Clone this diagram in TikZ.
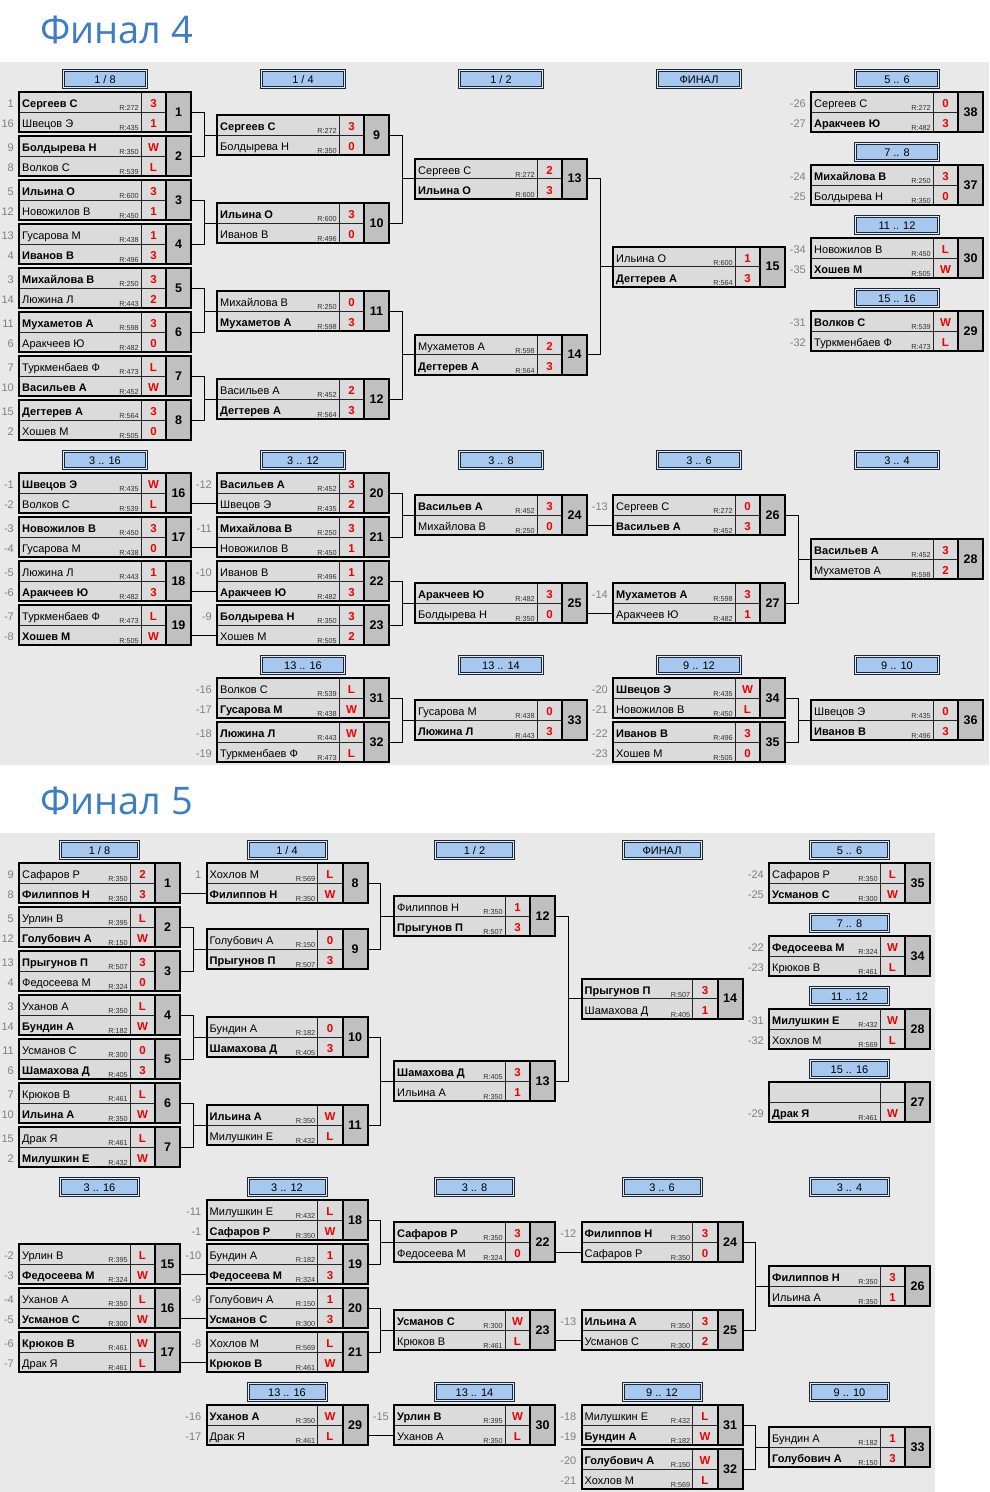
\documentclass[tikz,border=0pt]{standalone}
\usepackage{fontspec}
\setmainfont{Liberation Sans}
\newfontfamily\titlefont{Open Sans}
\usetikzlibrary{calc}
\definecolor{pagebg}{HTML}{E9E9E9}
\definecolor{cellbg}{HTML}{DBDBDB}
\definecolor{numbg}{HTML}{C0C0C0}
\definecolor{hdblue}{HTML}{A6C8EE}
\definecolor{hdgap}{HTML}{E4ECF6}
\definecolor{hdline}{HTML}{1C2636}
\definecolor{scred}{HTML}{F00000}
\definecolor{seedgray}{HTML}{808080}
\definecolor{titleblue}{HTML}{3D7DC6}
\newcommand\nmfont{\fontsize{11}{13}\selectfont}
\tikzset{
  nm/.style={anchor=base west,inner sep=0pt},
  rtg/.style={anchor=base east,inner sep=0pt,font=\fontsize{7.3}{8}\selectfont,text=black!80},
  sc/.style={anchor=base,inner sep=0pt,font=\fontsize{11.5}{13}\selectfont\bfseries,text=scred},
  sd/.style={anchor=base east,inner sep=0pt,font=\nmfont,text=seedgray},
  numtxt/.style={anchor=center,inner sep=0pt,font=\fontsize{12.5}{14}\selectfont\bfseries},
  hdtxt/.style={anchor=base,inner sep=0pt,font=\fontsize{11}{13}\selectfont},
  outerline/.style={line width=2pt,draw=black},
  innerline/.style={line width=0.8pt,draw=black!85},
  hdl/.style={line width=0.8pt,draw=hdline},
  conn/.style={line width=1pt,draw=black},
  ttl/.style={anchor=base west,inner sep=0pt,font=\titlefont\fontsize{38}{42}\selectfont,text=titleblue},
}
% match box: id, x, y(top), number
\newcommand\mt[4]{%
  \def\mtid{#1}\def\mtx{#2}\def\mty{#3}%
  \fill[cellbg] (#2,#3) rectangle ++(\BW-25,40);
  \fill[numbg] (#2+\BW-25,#3) rectangle ++(25,40);
  \draw[innerline] (#2,#3+20) -- ++(\BW-25,0);
  \draw[innerline] (#2+\BW-50,#3) -- ++(0,40);
  \draw[outerline] (#2+\BW-25,#3) -- ++(0,40);
  \draw[outerline] (#2,#3) rectangle ++(\BW,40);
  \node[numtxt] (#1) at (#2+\BW-12.5,#3+20) {#4};
  \coordinate (#1-in) at (#2,#3+20);
  \coordinate (#1-out) at (#2+\BW,#3+20);
  \coordinate (#1-bot) at (#2,#3+30);
}
% player: font, row, seed, name, rating, score
\newcommand\plx[6]{%
  \pgfmathsetmacro\prow{\mty+20*(#2-1)}%
  \node[nm,font=\nmfont#1] (\mtid-n#2) at (\mtx+3,\prow+15.5) {#4};
  \node[rtg] (\mtid-r#2) at (\mtx+\BW-52,\prow+18.5) {R:#5};
  \node[sc] (\mtid-s#2) at (\mtx+\BW-37.5,\prow+15.5) {#6};
  \node[sd] (\mtid-d#2) at (\mtx-5,\prow+15.5) {#3};
}
\newcommand\pw[5]{\plx{\bfseries}{#1}{#2}{#3}{#4}{#5}}
\newcommand\pn[5]{\plx{}{#1}{#2}{#3}{#4}{#5}}
% header: id, cx, y, w, text
\newcommand\hd[5]{%
  \fill[hdgap] (#2-#4/2,#3) rectangle ++(#4,19);
  \draw[hdl] (#2-#4/2,#3) rectangle ++(#4,19);
  \draw[hdl,fill=hdblue] (#2-#4/2+2,#3+2) rectangle ++(#4-4,15);
  \node[hdtxt] (#1) at (#2,#3+14) {#5};
}
\newcommand\brk[3]{%
  \draw[conn] (#1-out) -- ++(13,0) |- (#3-in);
  \draw[conn] (#2-out) -- ++(13,0) |- (#3-in);
}
\newcommand\strc[2]{\draw[conn] (#2-bot) -- (#2-bot -| #1-out);}
\begin{document}
\begin{tikzpicture}[x=1pt,y=-1pt]
\useasboundingbox (0,0) rectangle (989,1492);
\fill[white] (0,0) rectangle (989,1492);
\fill[pagebg] (0,62) rectangle (989,765);
\fill[pagebg] (0,832.5) rectangle (935,1492);
\node[ttl] (t4) at (40,43.5) {Финал 4};
\node[ttl] (t5) at (40,814) {Финал 5};
% ===== Final 4 =====
\def\BW{172}
\hd{h4a}{105}{69}{85}{1 / 8}
\hd{h4b}{303}{69}{85}{1 / 4}
\hd{h4c}{501}{69}{85}{1 / 2}
\hd{h4d}{699}{69}{85}{ФИНАЛ}
\hd{h4e}{897}{69}{85}{5 .. 6}
\hd{h4f}{897}{142}{85}{7 .. 8}
\hd{h4g}{897}{215}{85}{11 .. 12}
\hd{h4h}{897}{288}{85}{15 .. 16}
\hd{h4i}{105}{450}{85}{3 .. 16}
\hd{h4j}{303}{450}{85}{3 .. 12}
\hd{h4k}{501}{450}{85}{3 .. 8}
\hd{h4l}{699}{450}{85}{3 .. 6}
\hd{h4m}{897}{450}{85}{3 .. 4}
\hd{h4n}{303}{655}{85}{13 .. 16}
\hd{h4o}{501}{655}{85}{13 .. 14}
\hd{h4p}{699}{655}{85}{9 .. 12}
\hd{h4q}{897}{655}{85}{9 .. 10}
\mt{a1}{19}{92}{1}\pw{1}{1}{Сергеев С}{272}{3}\pn{2}{16}{Швецов Э}{435}{1}
\mt{a2}{19}{136}{2}\pw{1}{9}{Болдырева Н}{350}{W}\pn{2}{8}{Волков С}{539}{L}
\mt{a3}{19}{180}{3}\pw{1}{5}{Ильина О}{600}{3}\pn{2}{12}{Новожилов В}{450}{1}
\mt{a4}{19}{224}{4}\pn{1}{13}{Гусарова М}{438}{1}\pw{2}{4}{Иванов В}{496}{3}
\mt{a5}{19}{268}{5}\pw{1}{3}{Михайлова В}{250}{3}\pn{2}{14}{Люжина Л}{443}{2}
\mt{a6}{19}{312}{6}\pw{1}{11}{Мухаметов А}{598}{3}\pn{2}{6}{Аракчеев Ю}{482}{0}
\mt{a7}{19}{356}{7}\pn{1}{7}{Туркменбаев Ф}{473}{L}\pw{2}{10}{Васильев А}{452}{W}
\mt{a8}{19}{400}{8}\pw{1}{15}{Дегтерев А}{564}{3}\pn{2}{2}{Хошев М}{505}{0}
\mt{a9}{217}{115}{9}\pw{1}{}{Сергеев С}{272}{3}\pn{2}{}{Болдырева Н}{350}{0}
\mt{a10}{217}{203}{10}\pw{1}{}{Ильина О}{600}{3}\pn{2}{}{Иванов В}{496}{0}
\mt{a11}{217}{291}{11}\pn{1}{}{Михайлова В}{250}{0}\pw{2}{}{Мухаметов А}{598}{3}
\mt{a12}{217}{379}{12}\pn{1}{}{Васильев А}{452}{2}\pw{2}{}{Дегтерев А}{564}{3}
\mt{a13}{415}{158.5}{13}\pn{1}{}{Сергеев С}{272}{2}\pw{2}{}{Ильина О}{600}{3}
\mt{a14}{415}{334.5}{14}\pn{1}{}{Мухаметов А}{598}{2}\pw{2}{}{Дегтерев А}{564}{3}
\mt{a15}{613}{246.5}{15}\pn{1}{}{Ильина О}{600}{1}\pw{2}{}{Дегтерев А}{564}{3}
\mt{a38}{811}{92}{38}\pn{1}{-26}{Сергеев С}{272}{0}\pw{2}{-27}{Аракчеев Ю}{482}{3}
\mt{a37}{811}{165}{37}\pw{1}{-24}{Михайлова В}{250}{3}\pn{2}{-25}{Болдырева Н}{350}{0}
\mt{a30}{811}{238}{30}\pn{1}{-34}{Новожилов В}{450}{L}\pw{2}{-35}{Хошев М}{505}{W}
\mt{a29}{811}{311}{29}\pw{1}{-31}{Волков С}{539}{W}\pn{2}{-32}{Туркменбаев Ф}{473}{L}
\mt{a16}{19}{473}{16}\pw{1}{-1}{Швецов Э}{435}{W}\pn{2}{-2}{Волков С}{539}{L}
\mt{a17}{19}{517}{17}\pw{1}{-3}{Новожилов В}{450}{3}\pn{2}{-4}{Гусарова М}{438}{0}
\mt{a18}{19}{561}{18}\pn{1}{-5}{Люжина Л}{443}{1}\pw{2}{-6}{Аракчеев Ю}{482}{3}
\mt{a19}{19}{605}{19}\pn{1}{-7}{Туркменбаев Ф}{473}{L}\pw{2}{-8}{Хошев М}{505}{W}
\mt{a20}{217}{473}{20}\pw{1}{-12}{Васильев А}{452}{3}\pn{2}{}{Швецов Э}{435}{2}
\mt{a21}{217}{517}{21}\pw{1}{-11}{Михайлова В}{250}{3}\pn{2}{}{Новожилов В}{450}{1}
\mt{a22}{217}{561}{22}\pn{1}{-10}{Иванов В}{496}{1}\pw{2}{}{Аракчеев Ю}{482}{3}
\mt{a23}{217}{605}{23}\pw{1}{-9}{Болдырева Н}{350}{3}\pn{2}{}{Хошев М}{505}{2}
\mt{a24}{415}{495}{24}\pw{1}{}{Васильев А}{452}{3}\pn{2}{}{Михайлова В}{250}{0}
\mt{a25}{415}{583}{25}\pw{1}{}{Аракчеев Ю}{482}{3}\pn{2}{}{Болдырева Н}{350}{0}
\mt{a26}{613}{495}{26}\pn{1}{-13}{Сергеев С}{272}{0}\pw{2}{}{Васильев А}{452}{3}
\mt{a27}{613}{583}{27}\pw{1}{-14}{Мухаметов А}{598}{3}\pn{2}{}{Аракчеев Ю}{482}{1}
\mt{a28}{811}{539}{28}\pw{1}{}{Васильев А}{452}{3}\pn{2}{}{Мухаметов А}{598}{2}
\mt{a31}{217}{678}{31}\pn{1}{-16}{Волков С}{539}{L}\pw{2}{-17}{Гусарова М}{438}{W}
\mt{a32}{217}{722}{32}\pw{1}{-18}{Люжина Л}{443}{W}\pn{2}{-19}{Туркменбаев Ф}{473}{L}
\mt{a33}{415}{700}{33}\pn{1}{}{Гусарова М}{438}{0}\pw{2}{}{Люжина Л}{443}{3}
\mt{a34}{613}{678}{34}\pw{1}{-20}{Швецов Э}{435}{W}\pn{2}{-21}{Новожилов В}{450}{L}
\mt{a35}{613}{722}{35}\pw{1}{-22}{Иванов В}{496}{3}\pn{2}{-23}{Хошев М}{505}{0}
\mt{a36}{811}{700}{36}\pn{1}{}{Швецов Э}{435}{0}\pw{2}{}{Иванов В}{496}{3}
\brk{a1}{a2}{a9}\brk{a3}{a4}{a10}\brk{a5}{a6}{a11}\brk{a7}{a8}{a12}
\brk{a9}{a10}{a13}\brk{a11}{a12}{a14}\brk{a13}{a14}{a15}
\brk{a20}{a21}{a24}\brk{a22}{a23}{a25}\brk{a26}{a27}{a28}
\brk{a31}{a32}{a33}\brk{a34}{a35}{a36}
\strc{a16}{a20}\strc{a17}{a21}\strc{a18}{a22}\strc{a19}{a23}\strc{a24}{a26}\strc{a25}{a27}
% ===== Final 5 =====
\def\BW{161}
\hd{h5a}{99.5}{840}{80}{1 / 8}
\hd{h5b}{287}{840}{80}{1 / 4}
\hd{h5c}{474.5}{840}{80}{1 / 2}
\hd{h5d}{662}{840}{80}{ФИНАЛ}
\hd{h5e}{849.5}{840}{80}{5 .. 6}
\hd{h5f}{849.5}{913}{80}{7 .. 8}
\hd{h5g}{849.5}{986}{80}{11 .. 12}
\hd{h5h}{849.5}{1059}{80}{15 .. 16}
\hd{h5i}{99.5}{1177}{80}{3 .. 16}
\hd{h5j}{287}{1177}{80}{3 .. 12}
\hd{h5k}{474.5}{1177}{80}{3 .. 8}
\hd{h5l}{662}{1177}{80}{3 .. 6}
\hd{h5m}{849.5}{1177}{80}{3 .. 4}
\hd{h5n}{287}{1382}{80}{13 .. 16}
\hd{h5o}{474.5}{1382}{80}{13 .. 14}
\hd{h5p}{662}{1382}{80}{9 .. 12}
\hd{h5q}{849.5}{1382}{80}{9 .. 10}
\mt{b1}{19}{863}{1}\pn{1}{9}{Сафаров Р}{350}{2}\pw{2}{8}{Филиппов Н}{350}{3}
\mt{b2}{19}{907}{2}\pn{1}{5}{Урлин В}{395}{L}\pw{2}{12}{Голубович А}{150}{W}
\mt{b3}{19}{951}{3}\pw{1}{13}{Прыгунов П}{507}{3}\pn{2}{4}{Федосеева М}{324}{0}
\mt{b4}{19}{995}{4}\pn{1}{3}{Уханов А}{350}{L}\pw{2}{14}{Бундин А}{182}{W}
\mt{b5}{19}{1039}{5}\pn{1}{11}{Усманов С}{300}{0}\pw{2}{6}{Шамахова Д}{405}{3}
\mt{b6}{19}{1083}{6}\pn{1}{7}{Крюков В}{461}{L}\pw{2}{10}{Ильина А}{350}{W}
\mt{b7}{19}{1127}{7}\pn{1}{15}{Драк Я}{461}{L}\pw{2}{2}{Милушкин Е}{432}{W}
\mt{b8}{206.5}{863}{8}\pn{1}{1}{Хохлов М}{569}{L}\pw{2}{}{Филиппов Н}{350}{W}
\mt{b9}{206.5}{929}{9}\pn{1}{}{Голубович А}{150}{0}\pw{2}{}{Прыгунов П}{507}{3}
\mt{b10}{206.5}{1017}{10}\pn{1}{}{Бундин А}{182}{0}\pw{2}{}{Шамахова Д}{405}{3}
\mt{b11}{206.5}{1105}{11}\pw{1}{}{Ильина А}{350}{W}\pn{2}{}{Милушкин Е}{432}{L}
\mt{b12}{394}{896}{12}\pn{1}{}{Филиппов Н}{350}{1}\pw{2}{}{Прыгунов П}{507}{3}
\mt{b13}{394}{1061}{13}\pw{1}{}{Шамахова Д}{405}{3}\pn{2}{}{Ильина А}{350}{1}
\mt{b14}{581.5}{978.5}{14}\pw{1}{}{Прыгунов П}{507}{3}\pn{2}{}{Шамахова Д}{405}{1}
\mt{b35}{769}{863}{35}\pn{1}{-24}{Сафаров Р}{350}{L}\pw{2}{-25}{Усманов С}{300}{W}
\mt{b34}{769}{936}{34}\pw{1}{-22}{Федосеева М}{324}{W}\pn{2}{-23}{Крюков В}{461}{L}
\mt{b28}{769}{1009}{28}\pw{1}{-31}{Милушкин Е}{432}{W}\pn{2}{-32}{Хохлов М}{569}{L}
\mt{b27}{769}{1082}{27}\pw{2}{-29}{Драк Я}{461}{W}
\mt{b18}{206.5}{1200}{18}\pn{1}{-11}{Милушкин Е}{432}{L}\pw{2}{-1}{Сафаров Р}{350}{W}
\mt{b15}{19}{1244}{15}\pn{1}{-2}{Урлин В}{395}{L}\pw{2}{-3}{Федосеева М}{324}{W}
\mt{b19}{206.5}{1244}{19}\pn{1}{-10}{Бундин А}{182}{1}\pw{2}{}{Федосеева М}{324}{3}
\mt{b16}{19}{1288}{16}\pn{1}{-4}{Уханов А}{350}{L}\pw{2}{-5}{Усманов С}{300}{W}
\mt{b20}{206.5}{1288}{20}\pn{1}{-9}{Голубович А}{150}{1}\pw{2}{}{Усманов С}{300}{3}
\mt{b17}{19}{1332}{17}\pw{1}{-6}{Крюков В}{461}{W}\pn{2}{-7}{Драк Я}{461}{L}
\mt{b21}{206.5}{1332}{21}\pn{1}{-8}{Хохлов М}{569}{L}\pw{2}{}{Крюков В}{461}{W}
\mt{b22}{394}{1222}{22}\pw{1}{}{Сафаров Р}{350}{3}\pn{2}{}{Федосеева М}{324}{0}
\mt{b23}{394}{1310}{23}\pw{1}{}{Усманов С}{300}{W}\pn{2}{}{Крюков В}{461}{L}
\mt{b24}{581.5}{1222}{24}\pw{1}{-12}{Филиппов Н}{350}{3}\pn{2}{}{Сафаров Р}{350}{0}
\mt{b25}{581.5}{1310}{25}\pw{1}{-13}{Ильина А}{350}{3}\pn{2}{}{Усманов С}{300}{2}
\mt{b26}{769}{1266}{26}\pw{1}{}{Филиппов Н}{350}{3}\pn{2}{}{Ильина А}{350}{1}
\mt{b29}{206.5}{1405}{29}\pw{1}{-16}{Уханов А}{350}{W}\pn{2}{-17}{Драк Я}{461}{L}
\mt{b30}{394}{1405}{30}\pw{1}{-15}{Урлин В}{395}{W}\pn{2}{}{Уханов А}{350}{L}
\mt{b31}{581.5}{1405}{31}\pn{1}{-18}{Милушкин Е}{432}{L}\pw{2}{-19}{Бундин А}{182}{W}
\mt{b32}{581.5}{1449}{32}\pw{1}{-20}{Голубович А}{150}{W}\pn{2}{-21}{Хохлов М}{569}{L}
\mt{b33}{769}{1427}{33}\pn{1}{}{Бундин А}{182}{1}\pw{2}{}{Голубович А}{150}{3}
\strc{b1}{b8}\strc{b15}{b19}\strc{b16}{b20}\strc{b17}{b21}\strc{b22}{b24}\strc{b23}{b25}\strc{b29}{b30}
\brk{b2}{b3}{b9}\brk{b4}{b5}{b10}\brk{b6}{b7}{b11}\brk{b8}{b9}{b12}\brk{b10}{b11}{b13}\brk{b12}{b13}{b14}
\brk{b18}{b19}{b22}\brk{b20}{b21}{b23}\brk{b24}{b25}{b26}\brk{b31}{b32}{b33}
\end{tikzpicture}
\end{document}
